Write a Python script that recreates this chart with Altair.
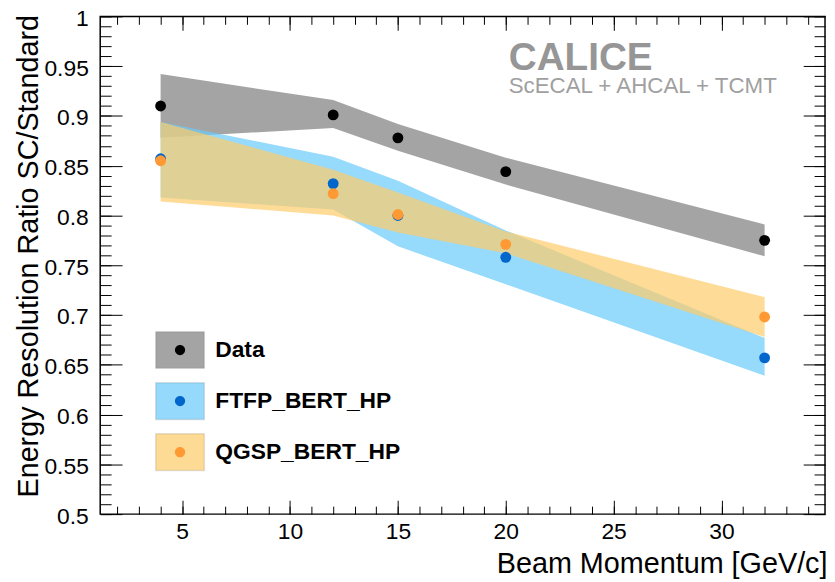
import altair as alt
import pandas as pd

# ---------------- data ----------------
momentum = [4, 12, 15, 20, 32]
series_names = ["Data", "FTFP_BERT_HP", "QGSP_BERT_HP"]

data_val = [0.910, 0.901, 0.878, 0.844, 0.775]
data_hi = [0.942, 0.916, 0.892, 0.858, 0.791]
data_lo = [0.878, 0.888, 0.865, 0.831, 0.759]

ftfp_val = [0.857, 0.832, 0.800, 0.758, 0.657]
ftfp_hi = [0.894, 0.859, 0.835, 0.785, 0.677]
ftfp_lo = [0.818, 0.806, 0.769, 0.731, 0.639]

qgsp_val = [0.855, 0.822, 0.801, 0.771, 0.698]
qgsp_hi = [0.894, 0.846, 0.823, 0.784, 0.718]
qgsp_lo = [0.814, 0.800, 0.783, 0.762, 0.678]

band_colors = ["#7E7E7E", "#69CAFB", "#FECC69"]
point_colors = ["#000000", "#0066CC", "#FF9933"]

x_major = [5, 10, 15, 20, 25, 30]
x_minor = list(range(2, 35))
y_major = [0.5, 0.55, 0.6, 0.65, 0.7, 0.75, 0.8, 0.85, 0.9, 0.95, 1.0]
y_minor = [round(0.5 + 0.01 * i, 2) for i in range(51)]

x_title = "Beam Momentum [GeV/c]"
y_title = "Energy Resolution Ratio SC/Standard"
logo = "CALICE"
subtitle = "ScECAL + AHCAL + TCMT"

FONT = "Liberation Sans"

# ---------------- table ----------------
rows = []
for name, vals, his, los in [
    (series_names[0], data_val, data_hi, data_lo),
    (series_names[1], ftfp_val, ftfp_hi, ftfp_lo),
    (series_names[2], qgsp_val, qgsp_hi, qgsp_lo),
]:
    for m, v, h, l in zip(momentum, vals, his, los):
        rows.append({"series": name, "momentum": m, "val": v, "hi": h, "lo": l})
df = pd.DataFrame(rows)

xs = alt.Scale(domain=[1.2, 34.8], nice=False, zero=False)
ys = alt.Scale(domain=[0.5, 1.0], nice=False, zero=False)


def ax(orient, values, size, **kw):
    return alt.Axis(orient=orient, values=values, tickSize=size, offset=-size,
                    domain=False, grid=False, ticks=True, tickColor="black",
                    tickWidth=1, **kw)


no_lab = dict(labels=False, title=None)

# legend symbols: a 49x37 box, and a dot whose path carries the same bounding box
BOX = "M-1,-0.755L1,-0.755L1,0.755L-1,0.755Z"
DOT = ("M-1,-0.755M1,0.755"
       "M0.21,0A0.21,0.21,0,1,1,-0.21,0A0.21,0.21,0,1,1,0.21,0Z")

legend_common = dict(orient="none", legendX=55, legendY=311, padding=0, title=None,
                     symbolSize=2401, symbolStrokeWidth=1.5, labelFont=FONT,
                     labelFontSize=23, labelFontWeight="bold", labelColor="black",
                     labelOffset=10, labelLimit=400, rowPadding=4.5, direction="vertical")

bands = alt.Chart(df).mark_area(opacity=0.7).encode(
    x=alt.X("momentum:Q", scale=xs,
            axis=ax("bottom", x_major, 14, labelFont=FONT, labelFontSize=23,
                    labelColor="black", labelPadding=7, labelFlush=False,
                    labelOverlap=False, title=x_title, titleFont=FONT,
                    titleFontSize=29, titleFontWeight="normal", titleColor="black",
                    titleAlign="right", titleBaseline="alphabetic",
                    titleX=733, titleY=73)),
    y=alt.Y("lo:Q", scale=ys,
            axis=ax("left", y_major, 22, format="~g", labelFont=FONT, labelFontSize=23,
                    labelColor="black", labelPadding=12, labelOffset=2, labelFlush=False,
                    labelOverlap=False, title=y_title, titleFont=FONT,
                    titleFontSize=29, titleFontWeight="normal", titleColor="black",
                    titleAngle=270, titleAlign="right", titleBaseline="alphabetic",
                    titleX=-85, titleY=-2)),
    y2="hi:Q",
    color=alt.Color("series:N", scale=alt.Scale(domain=series_names, range=band_colors),
                    legend=alt.Legend(symbolType=BOX, symbolOpacity=0.7,
                                      symbolStrokeColor="rgba(0,0,0,0.15)", **legend_common)),
)

points = alt.Chart(df).mark_point(filled=True, size=120, opacity=1).encode(
    x=alt.X("momentum:Q", scale=xs, axis=ax("bottom", x_minor, 8, **no_lab)),
    y=alt.Y("val:Q", scale=ys, axis=ax("left", y_minor, 11, **no_lab)),
    color=alt.Color("series:N", scale=alt.Scale(domain=series_names, range=point_colors),
                    legend=alt.Legend(symbolType=DOT, symbolOpacity=1,
                                      symbolStrokeColor="transparent", labelExpr="''",
                                      **legend_common)),
)

frame_major = alt.Chart(df).mark_point(opacity=0).encode(
    x=alt.X("momentum:Q", scale=xs, axis=ax("top", x_major, 14, **no_lab)),
    y=alt.Y("val:Q", scale=ys, axis=ax("right", y_major, 22, **no_lab)),
)

frame_minor = alt.Chart(df).mark_point(opacity=0).encode(
    x=alt.X("momentum:Q", scale=xs, axis=ax("top", x_minor, 8, **no_lab)),
    y=alt.Y("val:Q", scale=ys, axis=ax("right", y_minor, 11, **no_lab)),
)

logo_text = alt.Chart(pd.DataFrame({"t": [logo]})).mark_text(
    font=FONT, fontSize=39, fontWeight="bold", color="#969696",
    align="left", baseline="alphabetic",
).encode(x=alt.value(412), y=alt.value(54), text="t:N")

sub_text = alt.Chart(pd.DataFrame({"t": [subtitle]})).mark_text(
    font=FONT, fontSize=22.5, color="#A0A0A0", align="left", baseline="alphabetic",
).encode(x=alt.value(412), y=alt.value(77), text="t:N")

chart = alt.layer(bands, points, frame_major, frame_minor, logo_text, sub_text).resolve_scale(
    color="independent"
).resolve_axis(
    x="independent", y="independent"
).properties(
    width=731, height=502,
    autosize=alt.AutoSizeParams(type="none"),
    padding={"left": 93, "top": 6, "right": 2, "bottom": 66},
).configure_view(stroke="black", strokeWidth=1.5)

chart.save("out.html", embed_options={"renderer": "svg", "actions": False})
